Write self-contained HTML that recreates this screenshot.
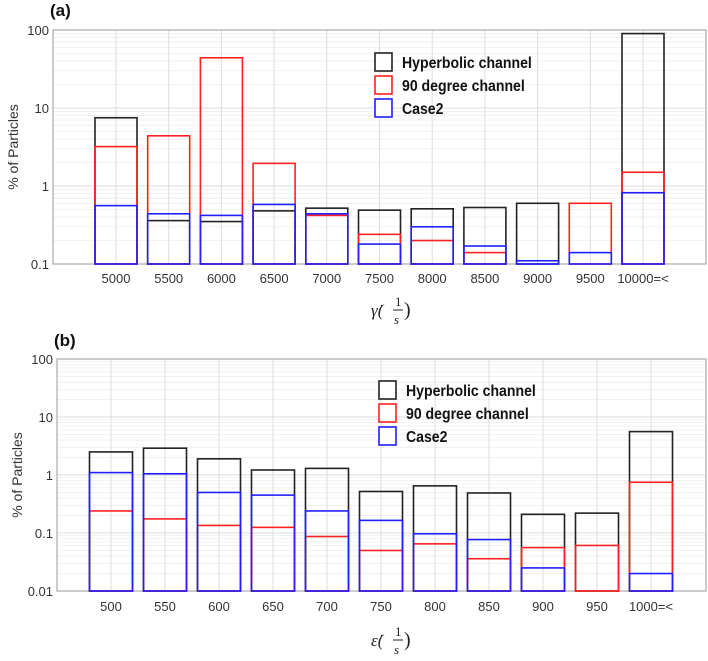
<!DOCTYPE html>
<html><head><meta charset="utf-8"><style>
body{margin:0;background:#fff;}
svg{display:block;font-family:"Liberation Sans",sans-serif;}
</style></head><body>
<svg id="chart" width="708" height="661"></svg>
<script>
const catsA=["5000","5500","6000","6500","7000","7500","8000","8500","9000","9500","10000=<"];
const hypA=[7.5,0.36,0.35,0.48,0.52,0.49,0.51,0.53,0.6,0.1,90];
const redA=[3.2,4.4,44,1.95,0.42,0.24,0.2,0.14,0.1,0.6,1.5];
const bluA=[0.56,0.44,0.42,0.58,0.44,0.18,0.3,0.17,0.11,0.14,0.82];
const ticksA=["0.1","1","10","100"];
const catsB=["500","550","600","650","700","750","800","850","900","950","1000=<"];
const hypB=[2.5,2.9,1.9,1.22,1.3,0.52,0.65,0.49,0.21,0.22,5.6];
const redB=[0.24,0.175,0.135,0.125,0.087,0.05,0.065,0.036,0.056,0.061,0.75];
const bluB=[1.1,1.05,0.5,0.45,0.24,0.165,0.097,0.077,0.025,0.01,0.02];
const ticksB=["0.01","0.1","1","10","100"];
const NS="http://www.w3.org/2000/svg";
const svg=document.getElementById('chart');
function mk(t,a,p){const e=document.createElementNS(NS,t);for(const k in a)e.setAttribute(k,a[k]);(p||svg).appendChild(e);return e;}
function panel(o){
  const g=mk('g',{});
  
  
  const lo=Math.log10(parseFloat(o.ticks[0])),hi=Math.log10(parseFloat(o.ticks[o.ticks.length-1]));
  const y=v=>o.bot-(Math.log10(v)-lo)/(hi-lo)*(o.bot-o.top);
  const x=i=>o.x0+i*o.step;
  mk('rect',{x:o.left,y:o.top,width:o.right-o.left,height:o.bot-o.top,fill:'#fff',stroke:'none'},g);
  for(let d=lo;d<hi;d++){for(let m=2;m<10;m++){const yy=y(m*Math.pow(10,d));mk('line',{x1:o.left,x2:o.right,y1:yy,y2:yy,stroke:'#eee','stroke-width':0.8},g);}}
  o.ticks.forEach(t=>{const yy=y(parseFloat(t));mk('line',{x1:o.left,x2:o.right,y1:yy,y2:yy,stroke:'#ddd','stroke-width':1},g);
    const tx=mk('text',{x:o.left-4,y:yy+5,'text-anchor':'end','font-size':13,fill:'#333'},g);tx.textContent=t;
    });
  o.cats.forEach((c,i)=>{mk('line',{x1:x(i),x2:x(i),y1:o.top,y2:o.bot,stroke:'#ddd','stroke-width':1},g);
    const tx=mk('text',{x:x(i),y:o.tickY,'text-anchor':'middle','font-size':13,fill:'#333'},g);tx.textContent=c;
    });
  mk('rect',{x:o.left,y:o.top,width:o.right-o.left,height:o.bot-o.top,fill:'none',stroke:'#999','stroke-width':1},g);
  const base=parseFloat(o.ticks[0]);
  [[o.hyp,'#222','hyperbolic'],[o.red,'#ff2020','90-degree'],[o.blu,'#2020ff','case2']].forEach(s=>{
    s[0].forEach((v,i)=>{if(v<=base)return;const r=mk('rect',{x:x(i)-o.bw/2,y:y(v),width:o.bw,height:y(base)-y(v),fill:'none',stroke:s[1],'stroke-width':1.6},g);
      });
  });
  const yt=mk('text',{x:0,y:0,transform:`translate(${o.left-35},${(o.top+o.bot)/2}) rotate(-90)`,'text-anchor':'middle','font-size':14,fill:'#333'},g);
  yt.textContent='% of Particles';
  const pl=mk('text',{x:o.left-3,y:o.plY,'font-size':17,'font-weight':'bold',fill:'#111'},g);pl.textContent=o.label;
  
  [['Hyperbolic channel','#222'],['90 degree channel','#ff2020'],['Case2','#2020ff']].forEach((l,k)=>{
    const yy=o.legY+k*23;
    const b=mk('rect',{x:o.legX,y:yy,width:17,height:18,fill:'#fff',stroke:l[1],'stroke-width':1.6},g);
    
    const t=mk('text',{x:o.legX+27,y:yy+15,'font-size':16,'font-weight':'bold',fill:'#111',textLength:0},g);
    t.removeAttribute('textLength');t.textContent=l[0];t.setAttribute('transform',`translate(${o.legX+27},0) scale(0.88,1) translate(${-(o.legX+27)},0)`);
    
  });
  const xl=mk('text',{x:o.xlX,y:o.xlY,'font-size':17,'font-family':'Liberation Serif,serif','font-style':'italic',fill:'#222'},g);
  xl.textContent=o.xl;
  const fr=mk('g',{},g);
  mk('text',{x:o.xlX+24,y:o.xlY-10,'font-size':13,'font-family':'Liberation Serif,serif',fill:'#222'},fr).textContent='1';
  mk('line',{x1:o.xlX+22,x2:o.xlX+32,y1:o.xlY-6,y2:o.xlY-6,stroke:'#222','stroke-width':1},fr);
  mk('text',{x:o.xlX+23,y:o.xlY+8,'font-size':13,'font-family':'Liberation Serif,serif','font-style':'italic',fill:'#222'},fr).textContent='s';
  mk('text',{x:o.xlX+33,y:o.xlY,'font-size':20,'font-family':'Liberation Serif,serif',fill:'#222'},fr).textContent=')';
}
panel({name:'chart-a',label:'(a)',cats:catsA,hyp:hypA,red:redA,blu:bluA,ticks:ticksA,left:53,right:706,top:30,bot:264,x0:116,step:52.7,bw:42,tickY:283,plY:16,legX:375,legY:53,xl:'γ̇(',xlX:371,xlY:316});
panel({name:'chart-b',label:'(b)',cats:catsB,hyp:hypB,red:redB,blu:bluB,ticks:ticksB,left:57,right:706,top:359,bot:591,x0:111,step:54,bw:43,tickY:611,plY:346,legX:379,legY:381,xl:'ε̇(',xlX:371,xlY:646});
</script>
</body></html>
